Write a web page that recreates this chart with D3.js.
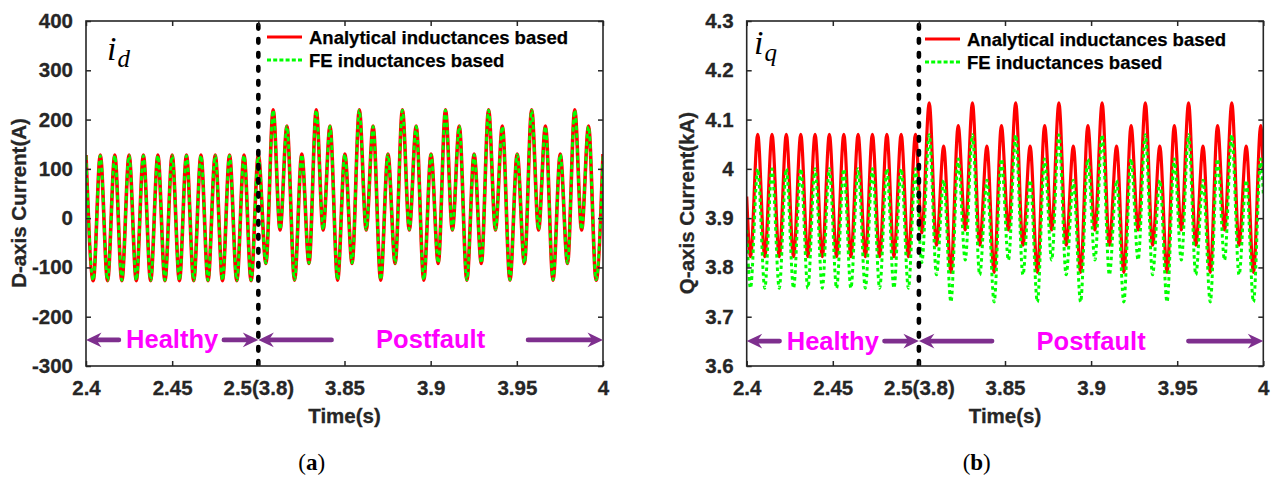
<!DOCTYPE html>
<html>
<head>
<meta charset="utf-8">
<script src="https://cdn.jsdelivr.net/npm/d3@7"></script>
<style>
  body { margin: 0; background: #fff; }
  svg { display: block; font-family: "Liberation Sans", Arial, Helvetica, sans-serif; }
</style>
</head>
<body>
<svg id="fig" width="1280" height="477"></svg>
<script>
// ---- axis ticks (time axis is broken: 2.4–2.5 healthy, then 3.8–4.0 postfault) ----
const timeTicks = [2.4, 2.45, 2.5, 3.85, 3.9, 3.95, 4];
const timeTickLabels = ["2.4", "2.45", "2.5(3.8)", "3.85", "3.9", "3.95", "4"];
const idTicks = [-300, -200, -100, 0, 100, 200, 300, 400];
const idTickLabels = ["-300", "-200", "-100", "0", "100", "200", "300", "400"];
const iqTicks = [3.6, 3.7, 3.8, 3.9, 4.0, 4.1, 4.2, 4.3];
const iqTickLabels = ["3.6", "3.7", "3.8", "3.9", "4", "4.1", "4.2", "4.3"];
const seriesNames = ["Analytical inductances based", "FE inductances based"];

// ---- d-axis current: turning points (s, A) ----
const idTime = [
  2.4000, 2.4042, 2.4083, 2.4125, 2.4167, 2.4208, 2.4250, 2.4292, 2.4333, 2.4375,
  2.4417, 2.4458, 2.4500, 2.4542, 2.4583, 2.4625, 2.4667, 2.4708, 2.4750, 2.4792,
  2.4833, 2.4875, 2.4917, 2.4958, 2.5000,
  3.8044, 3.8086, 3.8126, 3.8166, 3.8210, 3.8252, 3.8294, 3.8336, 3.8376, 3.8416,
  3.8460, 3.8502, 3.8544, 3.8586, 3.8626, 3.8666, 3.8710, 3.8752, 3.8794, 3.8836,
  3.8876, 3.8916, 3.8960, 3.9002, 3.9044, 3.9086, 3.9126, 3.9166, 3.9210, 3.9252,
  3.9294, 3.9336, 3.9376, 3.9416, 3.9460, 3.9502, 3.9544, 3.9586, 3.9626, 3.9666,
  3.9710, 3.9752, 3.9794, 3.9836, 3.9876, 3.9916, 3.9960, 4.0000
];
const idAnalytical = [
  128, -127, 128, -127, 128, -127, 128, -127, 128, -127,
  128, -127, 128, -127, 128, -127, 128, -127, 128, -127,
  128, -127, 128, -127, 128,
  -92, 220, -24, 187, -126, 130, -92, 220, -24, 187,
  -126, 130, -92, 220, -24, 187, -126, 130, -92, 220,
  -24, 187, -126, 130, -92, 220, -24, 187, -126, 130,
  -92, 220, -24, 187, -126, 130, -92, 220, -24, 187,
  -126, 130, -92, 220, -24, 187, -126, 130
];
const idFE = [
  127, -126, 127, -126, 127, -126, 127, -126, 127, -126,
  127, -126, 127, -126, 127, -126, 127, -126, 127, -126,
  127, -126, 127, -126, 127,
  -91, 219, -23, 186, -125, 129, -91, 219, -23, 186,
  -125, 129, -91, 219, -23, 186, -125, 129, -91, 219,
  -23, 186, -125, 129, -91, 219, -23, 186, -125, 129,
  -91, 219, -23, 186, -125, 129, -91, 219, -23, 186,
  -125, 129, -91, 219, -23, 186, -125, 129
];

// ---- q-axis current: turning points (s, kA) ----
const iqTime = [
  2.4000, 2.4022, 2.4064, 2.4105, 2.4147, 2.4189, 2.4230, 2.4272, 2.4314, 2.4355,
  2.4397, 2.4439, 2.4480, 2.4522, 2.4564, 2.4605, 2.4647, 2.4689, 2.4730, 2.4772,
  2.4814, 2.4855, 2.4897, 2.4939, 2.4980,
  3.8017, 3.8060, 3.8102, 3.8144, 3.8186, 3.8228, 3.8269, 3.8311, 3.8353, 3.8395,
  3.8437, 3.8479, 3.8520, 3.8562, 3.8604, 3.8646, 3.8688, 3.8730, 3.8771, 3.8813,
  3.8855, 3.8897, 3.8939, 3.8981, 3.9022, 3.9064, 3.9106, 3.9148, 3.9190, 3.9232,
  3.9273, 3.9315, 3.9357, 3.9399, 3.9441, 3.9483, 3.9524, 3.9566, 3.9608, 3.9650,
  3.9692, 3.9734, 3.9775, 3.9817, 3.9859, 3.9901, 3.9943, 3.9985, 4.0000
];
const iqAnalytical = [
  3.944, 3.822, 4.070, 3.822, 4.070, 3.822, 4.070, 3.822, 4.070, 3.822,
  4.070, 3.822, 4.070, 3.822, 4.070, 3.822, 4.070, 3.822, 4.070, 3.822,
  4.070, 3.822, 4.070, 3.822, 4.070,
  3.870, 4.134, 3.845, 4.046, 3.790, 4.088, 3.876, 4.134, 3.845, 4.046,
  3.790, 4.088, 3.876, 4.134, 3.845, 4.046, 3.790, 4.088, 3.876, 4.134,
  3.845, 4.046, 3.790, 4.088, 3.876, 4.134, 3.845, 4.046, 3.790, 4.088,
  3.876, 4.134, 3.845, 4.046, 3.790, 4.088, 3.876, 4.134, 3.845, 4.046,
  3.790, 4.088, 3.876, 4.134, 3.845, 4.046, 3.790, 4.088, 3.995
];
const iqFE = [
  3.876, 3.758, 4.000, 3.758, 4.000, 3.758, 4.000, 3.758, 4.000, 3.758,
  4.000, 3.758, 4.000, 3.758, 4.000, 3.758, 4.000, 3.758, 4.000, 3.758,
  4.000, 3.758, 4.000, 3.758, 4.000,
  3.810, 4.069, 3.785, 3.977, 3.730, 4.020, 3.815, 4.069, 3.785, 3.977,
  3.730, 4.020, 3.815, 4.069, 3.785, 3.977, 3.730, 4.020, 3.815, 4.069,
  3.785, 3.977, 3.730, 4.020, 3.815, 4.069, 3.785, 3.977, 3.730, 4.020,
  3.815, 4.069, 3.785, 3.977, 3.730, 4.020, 3.815, 4.069, 3.785, 3.977,
  3.730, 4.020, 3.815, 4.069, 3.785, 3.977, 3.730, 4.020, 3.950
];

// ---- region annotations (time of arrow tails / label centres) ----
const regionLabels = ["Healthy", "Postfault"];
const regionLabelTime = [2.45, 3.9];
const arrowSpans = [[2.4191, 2.4], [2.4800, 2.5], [3.8425, 3.8], [3.9565, 4.0]];
const faultTime = 2.5;

const svg = d3.select("#fig");
svg.append("rect").attr("width", 1280).attr("height", 477).attr("fill", "#fff");

const AX = "#262626";
const RED = "#ff0000", GREEN = "#00ff00", PURPLE = "#7e2f8e", MAGENTA = "#ff00ff";
const SERIF = "'Liberation Serif', 'DejaVu Serif', 'Times New Roman', serif";

const panels = [
  {
    x0: 86, x1: 603, y0: 21, y1: 366,
    yDomain: [-300, 400], yTicks: idTicks, yTickLabels: idTickLabels,
    yLabel: "D-axis Current(A)", yLabelX: 18, yLabelY: 203,
    time: idTime, series: [idAnalytical, idFE],
    arrowValue: -247, sub: "d", caption: "a", captionX: 311.7,
    symX: 107, symY: 60,
    legendX: 267, legendY: 37
  },
  {
    x0: 746.7, x1: 1263.3, y0: 21, y1: 366,
    yDomain: [3.6, 4.3], yTicks: iqTicks, yTickLabels: iqTickLabels,
    yLabel: "Q-axis Current(kA)", yLabelX: 686, yLabelY: 203,
    time: iqTime, series: [iqAnalytical, iqFE],
    arrowValue: 3.6505, sub: "q", caption: "b", captionX: 976.7,
    symX: 754, symY: 54,
    legendX: 925, legendY: 39
  }
];

panels.forEach((p, pi) => {
  const w = p.x1 - p.x0;
  const x = d3.scaleLinear()
    .domain([2.4, 2.5, 3.8, 4.0])
    .range([p.x0, p.x0 + w / 3, p.x0 + w / 3, p.x1]);
  const y = d3.scaleLinear().domain(p.yDomain).range([p.y1, p.y0]);

  const g = svg.append("g");

  const clipId = "clip" + pi;
  svg.append("clipPath").attr("id", clipId)
    .append("rect").attr("x", p.x0).attr("y", p.y0)
    .attr("width", w).attr("height", p.y1 - p.y0);

  // curves through the turning points
  const line = d3.line()
    .x((d, i) => x(p.time[i]))
    .y(d => y(d))
    .curve(d3.curveMonotoneX);

  const plot = g.append("g").attr("clip-path", `url(#${clipId})`);
  plot.append("path")
    .attr("d", line(p.series[0]))
    .attr("fill", "none").attr("stroke", RED)
    .attr("stroke-width", pi === 0 ? 3.6 : 3.2)
    .attr("stroke-linejoin", "round");
  plot.append("path")
    .attr("d", line(p.series[1]))
    .attr("fill", "none").attr("stroke", GREEN)
    .attr("stroke-width", pi === 0 ? 2.8 : 3)
    .attr("stroke-dasharray", pi === 0 ? "4.5,3" : "3.5,3.2")
    .attr("stroke-linejoin", "round");

  // fault instant marker
  plot.append("line")
    .attr("x1", x(faultTime)).attr("x2", x(faultTime))
    .attr("y1", p.y0 + 4).attr("y2", p.y1)
    .attr("stroke", "#000").attr("stroke-width", 4.6)
    .attr("stroke-linecap", "round")
    .attr("stroke-dasharray", "3.6,10.4");

  // axes (ticks inside, box all round)
  const xAxis = d3.axisBottom(x).tickValues(timeTicks)
    .tickFormat((d, i) => timeTickLabels[i]).tickSize(-5).tickSizeOuter(0).tickPadding(14);
  const gx = g.append("g").attr("transform", `translate(0,${p.y1})`).call(xAxis);
  gx.attr("font-family", null);
  gx.select(".domain").remove();
  gx.selectAll("line").attr("stroke", AX).attr("stroke-width", 1.5);
  gx.selectAll("text").attr("fill", AX).attr("font-size", 20.5).attr("font-weight", "bold")
    .attr("stroke", AX).attr("stroke-width", 0.3);

  const xTop = d3.axisTop(x).tickValues(timeTicks).tickFormat("").tickSize(-5).tickSizeOuter(0);
  const gxt = g.append("g").attr("transform", `translate(0,${p.y0})`).call(xTop);
  gxt.select(".domain").remove();
  gxt.selectAll("line").attr("stroke", AX).attr("stroke-width", 1.5);

  const yAxis = d3.axisLeft(y).tickValues(p.yTicks)
    .tickFormat((d, i) => p.yTickLabels[i]).tickSize(-5).tickSizeOuter(0).tickPadding(13);
  const gy = g.append("g").attr("transform", `translate(${p.x0},0)`).call(yAxis);
  gy.attr("font-family", null);
  gy.select(".domain").remove();
  gy.selectAll("line").attr("stroke", AX).attr("stroke-width", 1.5);
  gy.selectAll("text").attr("fill", AX).attr("font-size", 20.5).attr("font-weight", "bold")
    .attr("stroke", AX).attr("stroke-width", 0.3);

  const yRight = d3.axisRight(y).tickValues(p.yTicks).tickFormat("").tickSize(-5).tickSizeOuter(0);
  const gyr = g.append("g").attr("transform", `translate(${p.x1},0)`).call(yRight);
  gyr.select(".domain").remove();
  gyr.selectAll("line").attr("stroke", AX).attr("stroke-width", 1.5);

  g.append("rect")
    .attr("x", p.x0).attr("y", p.y0).attr("width", w).attr("height", p.y1 - p.y0)
    .attr("fill", "none").attr("stroke", AX).attr("stroke-width", 1.6);

  // axis titles
  g.append("text")
    .attr("x", (p.x0 + p.x1) / 2).attr("y", 423)
    .attr("text-anchor", "middle").attr("font-size", 20.5).attr("font-weight", "bold")
    .attr("fill", AX).attr("stroke", AX).attr("stroke-width", 0.3).text("Time(s)");
  g.append("text")
    .attr("transform", `translate(${p.yLabelX},${p.yLabelY}) rotate(-90)`)
    .attr("text-anchor", "middle").attr("dominant-baseline", "central")
    .attr("font-size", 20.5).attr("font-weight", "bold")
    .attr("fill", AX).attr("stroke", AX).attr("stroke-width", 0.3).text(p.yLabel);

  // current symbol
  const sym = g.append("text")
    .attr("x", p.symX).attr("y", p.symY)
    .style("font-family", SERIF)
    .attr("font-style", "italic").attr("fill", "#000");
  sym.append("tspan").attr("font-size", 34).text("i");
  sym.append("tspan").attr("font-size", 25).attr("dy", 7).attr("dx", 1).text(p.sub);

  // legend
  const lg = g.append("g");
  seriesNames.forEach((name, i) => {
    const ly = p.legendY + i * 23;
    lg.append("line")
      .attr("x1", p.legendX).attr("x2", p.legendX + 35)
      .attr("y1", ly).attr("y2", ly)
      .attr("stroke", i === 0 ? RED : GREEN).attr("stroke-width", 3)
      .attr("stroke-dasharray", i === 0 ? null : "4,2.2");
    lg.append("text")
      .attr("x", p.legendX + 42).attr("y", ly + 6.5)
      .attr("font-size", 18.5).attr("font-weight", "bold").attr("fill", "#000")
      .attr("stroke", "#000").attr("stroke-width", 0.25)
      .text(name);
  });

  // region arrows
  const ay = y(p.arrowValue);
  arrowSpans.forEach(([tTail, tHead]) => {
    const xt = x(tTail), xh = x(tHead);
    const dir = Math.sign(xh - xt);
    const L = 15.5, W = 14.6, notch = 0.68 * L;
    g.append("line")
      .attr("x1", xt).attr("x2", xh - dir * notch)
      .attr("y1", ay).attr("y2", ay)
      .attr("stroke", PURPLE).attr("stroke-width", 4.6).attr("stroke-linecap", "round");
    g.append("path")
      .attr("d", `M${xh},${ay} L${xh - dir * L},${ay - W / 2} L${xh - dir * notch},${ay} L${xh - dir * L},${ay + W / 2} Z`)
      .attr("fill", PURPLE);
  });
  regionLabels.forEach((lab, i) => {
    g.append("text")
      .attr("x", x(regionLabelTime[i])).attr("y", ay + 8.5)
      .attr("text-anchor", "middle").attr("font-size", 25.5).attr("font-weight", "bold")
      .attr("fill", MAGENTA).text(lab);
  });

  // sub-figure caption
  const cap = g.append("text")
    .attr("x", p.captionX).attr("y", 470)
    .attr("text-anchor", "middle")
    .style("font-family", SERIF)
    .attr("font-size", 23).attr("fill", "#000");
  cap.append("tspan").text("(");
  cap.append("tspan").attr("font-weight", "bold").text(p.caption);
  cap.append("tspan").text(")");
});
</script>
</body>
</html>
